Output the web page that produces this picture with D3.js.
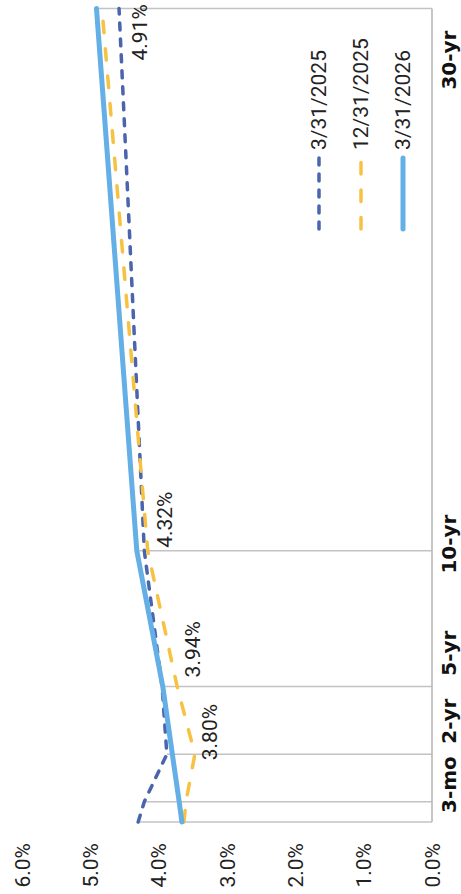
<!DOCTYPE html>
<html>
<head>
<meta charset="utf-8">
<script src="https://cdn.jsdelivr.net/npm/d3@7"></script>
<style>
  html, body { margin: 0; padding: 0; background: #fff; }
  svg { display: block; }
</style>
</head>
<body>
<svg id="chart" width="461" height="894"></svg>
<script>
// ---- data ----
const tenorNames = ["3-mo", "6-mo", "2-yr", "5-yr", "10-yr", "30-yr"];
const tenorPos   = [0, 0.75, 2.5, 5, 10, 30];          // position along the maturity axis (years, as drawn)
const seriesNames = ["3/31/2025", "12/31/2025", "3/31/2026"];
const yields2025Mar = [4.30, 4.21, 3.88, 3.95, 4.21, 4.58];
const yields2025Dec = [3.63, 3.60, 3.47, 3.73, 4.16, 4.83];
const yields2026Mar = [3.66, 3.70, 3.80, 3.94, 4.32, 4.91];
const axisLabels = ["3-mo", "2-yr", "5-yr", "10-yr", "30-yr"];
const yTicks = [0, 1, 2, 3, 4, 5, 6];
const labeledIdx = [2, 3, 4, 5];   // points of 3/31/2026 carrying a value label

// ---- layout (chart drawn in a local 894x461 frame, then rotated -90deg) ----
const W = 894, H = 461;
const axisLabelAt = [1.38, 3.72, 6.23, 10.25, 28.1];
const dataLabelOffset = [[-6, 45], [9, 37], [3, 35], [-52, 51]];

const series = [
  { name: seriesNames[0], values: yields2025Mar, color: "#4A64AE", width: 3.5, dash: "7,9",     cap: "round" },
  { name: seriesNames[1], values: yields2025Dec, color: "#F7C242", width: 3.5, dash: "11.5,16", cap: "round" },
  { name: seriesNames[2], values: yields2026Mar, color: "#63AFE6", width: 5,   dash: null,      cap: "round" }
];

const svg = d3.select("#chart");
const g = svg.append("g").attr("transform", `translate(0,${W}) rotate(-90)`);

const x = d3.scaleLinear().domain([0, 30]).range([72, 885.5]);
const y = d3.scaleLinear().domain([0, 6]).range([432, 22]);

// value-axis tick labels
g.append("g").selectAll("text").data(yTicks).join("text")
  .attr("x", 51).attr("y", d => y(d) + 7.5)
  .attr("text-anchor", "end")
  .attr("font-family", "Roboto, sans-serif").attr("font-size", 21)
  .attr("fill", "#222")
  .text(d => d3.format(".1f")(d) + "%");

// drop lines
g.append("g").selectAll("line").data(tenorPos).join("line")
  .attr("x1", d => x(d)).attr("x2", d => x(d))
  .attr("y1", (d, i) => y(d3.max(series, s => s.values[i])))
  .attr("y2", y(0))
  .attr("stroke", "#c3c3c3").attr("stroke-width", 1.5);

// category axis line
g.append("line")
  .attr("x1", x(0)).attr("x2", x(30)).attr("y1", y(0)).attr("y2", y(0))
  .attr("stroke", "#b8b8b8").attr("stroke-width", 1.6);

// category labels
g.append("g").selectAll("text").data(axisLabels).join("text")
  .attr("x", (d, i) => x(axisLabelAt[i])).attr("y", 456)
  .attr("text-anchor", "middle")
  .attr("font-family", "'DejaVu Sans', sans-serif").attr("font-weight", "bold").attr("font-size", 20)
  .attr("fill", "#111")
  .text(d => d);

// lines
const line = d3.line().curve(d3.curveLinear)
  .x((d, i) => x(tenorPos[i])).y(d => y(d));
g.append("g").selectAll("path").data(series).join("path")
  .attr("d", s => line(s.values))
  .attr("fill", "none")
  .attr("stroke", s => s.color).attr("stroke-width", s => s.width)
  .attr("stroke-dasharray", s => s.dash).attr("stroke-linecap", s => s.cap)
  .attr("stroke-linejoin", "round");

// data labels (3/31/2026)
g.append("g").selectAll("text").data(labeledIdx).join("text")
  .attr("x", (d, k) => x(tenorPos[d]) + dataLabelOffset[k][0])
  .attr("y", (d, k) => y(yields2026Mar[d]) + dataLabelOffset[k][1])
  .attr("font-family", "Roboto, sans-serif").attr("font-size", 21)
  .attr("fill", "#222")
  .text(d => d3.format(".2f")(yields2026Mar[d]) + "%");

// legend
const legend = g.append("g").selectAll("g").data(series).join("g")
  .attr("transform", (d, i) => `translate(0, ${[319, 361, 403][i]})`);
legend.append("line")
  .attr("x1", 665).attr("x2", 736).attr("y1", 0).attr("y2", 0)
  .attr("stroke", s => s.color).attr("stroke-width", s => s.width)
  .attr("stroke-dasharray", s => s.dash).attr("stroke-linecap", s => s.cap);
legend.append("text")
  .attr("x", 744).attr("y", 7)
  .attr("font-family", "Roboto, sans-serif").attr("font-size", 21)
  .attr("fill", "#222")
  .text(s => s.name);
</script>
</body>
</html>
